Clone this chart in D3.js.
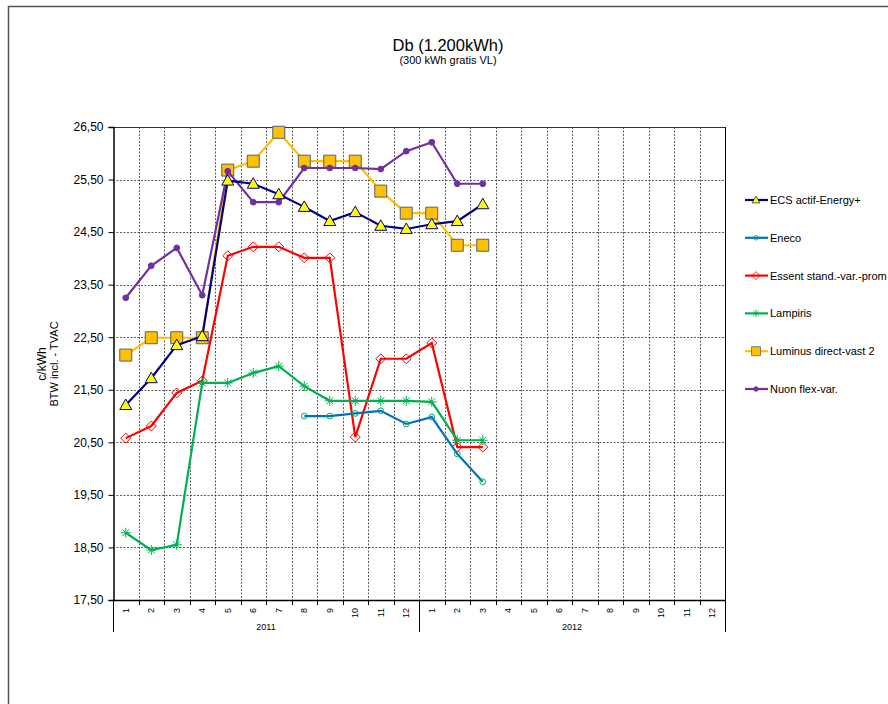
<!DOCTYPE html>
<html>
<head>
<meta charset="utf-8">
<script src="https://cdn.jsdelivr.net/npm/d3@7"></script>
<style>
  body { margin: 0; background: #fff; }
  svg { font-family: "Liberation Sans", Arial, sans-serif; }
</style>
</head>
<body>
<svg width="888" height="704"></svg>
<script>
// months: 2011-01 .. 2012-12
var years = ["2011", "2012"];
var monthLabels = ["1","2","3","4","5","6","7","8","9","10","11","12"];
var yTicks = [17.5, 18.5, 19.5, 20.5, 21.5, 22.5, 23.5, 24.5, 25.5, 26.5];

var seriesNames = ["ECS actif-Energy+", "Eneco", "Essent stand.-var.-prom", "Lampiris", "Luminus direct-vast 2", "Nuon flex-var."];

var ecs      = [21.21, 21.72, 22.35, 22.52, 25.48, 25.42, 25.22, 24.98, 24.71, 24.88, 24.62, 24.56, 24.65, 24.71, 25.03];
var eneco    = [null, null, null, null, null, null, null, 21.00, 21.00, 21.05, 21.10, 20.85, 20.98, 20.28, 19.75];
var essent   = [20.58, 20.81, 21.44, 21.67, 24.05, 24.22, 24.22, 24.01, 24.01, 20.60, 22.09, 22.09, 22.39, 20.41, 20.41];
var lampiris = [18.78, 18.45, 18.55, 21.63, 21.63, 21.82, 21.95, 21.57, 21.29, 21.29, 21.29, 21.29, 21.27, 20.54, 20.54];
var luminus  = [22.16, 22.49, 22.49, 22.49, 25.68, 25.85, 26.40, 25.85, 25.85, 25.85, 25.28, 24.86, 24.86, 24.25, 24.25];
var nuon     = [23.25, 23.86, 24.20, 23.30, 25.66, 25.07, 25.07, 25.72, 25.72, 25.72, 25.70, 26.04, 26.21, 25.42, 25.42];

var svg = d3.select("svg");
var margin = {left: 113, right: 725, top: 127, bottom: 600};

// outer frame
svg.append("path")
   .attr("d", "M8.5,720 V6.5 H900")
   .attr("fill", "none").attr("stroke", "#555").attr("stroke-width", 1.5);

// title
svg.append("text").attr("x", 448).attr("y", 51).attr("text-anchor", "middle")
   .attr("font-size", 16.5).text("Db (1.200kWh)");
svg.append("text").attr("x", 448).attr("y", 64).attr("text-anchor", "middle")
   .attr("font-size", 11).text("(300 kWh gratis VL)");

var allMonths = [];
years.forEach(function(y) { monthLabels.forEach(function(m) { allMonths.push(y + "-" + m); }); });

var x = d3.scaleBand().domain(allMonths).range([margin.left, margin.right]);
var y = d3.scaleLinear().domain([17.5, 26.5]).range([margin.bottom, margin.top]);

// grid
var g = svg.append("g");
g.selectAll(".hg").data(yTicks.slice(1)).enter().append("line")
 .attr("x1", margin.left).attr("x2", margin.right)
 .attr("y1", d => Math.round(y(d)) + 0.5).attr("y2", d => Math.round(y(d)) + 0.5)
 .attr("stroke", "#333").attr("stroke-dasharray", "2,1.5").attr("stroke-width", 0.8);
g.selectAll(".vg").data(allMonths.slice(1)).enter().append("line")
 .attr("x1", d => Math.round(x(d)) + 0.5).attr("x2", d => Math.round(x(d)) + 0.5)
 .attr("y1", margin.top).attr("y2", margin.bottom)
 .attr("stroke", "#333").attr("stroke-dasharray", "2,1.5").attr("stroke-width", 0.8);
g.append("line").attr("x1", margin.right + 0.5).attr("x2", margin.right + 0.5)
 .attr("y1", margin.top).attr("y2", margin.bottom).attr("stroke", "#000").attr("stroke-width", 1);
g.append("line").attr("x1", margin.left).attr("x2", margin.right)
 .attr("y1", margin.top + 0.5).attr("y2", margin.top + 0.5).attr("stroke", "#333").attr("stroke-width", 1);

// y axis
var yAxis = d3.axisLeft(y).tickValues(yTicks).tickSize(5)
  .tickFormat(d => d.toFixed(2).replace(".", ","));
var ya = svg.append("g").attr("transform", "translate(" + (margin.left + 0.5) + ",0)").call(yAxis);
ya.select(".domain").attr("stroke", "#000").attr("stroke-width", 1.5);
ya.selectAll(".tick text").attr("font-size", 12).attr("fill", "#000")
  .attr("font-family", "Liberation Sans, Arial, sans-serif").attr("x", -10);
ya.selectAll(".tick line").attr("stroke", "#000");

svg.append("text")
   .attr("transform", "translate(46,364) rotate(-90)")
   .attr("text-anchor", "middle").attr("font-size", 12).text("c/kWh");
svg.append("text")
   .attr("transform", "translate(58,364) rotate(-90)")
   .attr("text-anchor", "middle").attr("font-size", 11).text("BTW incl. - TVAC");

// x axis
var xa = svg.append("g");
xa.append("line").attr("x1", margin.left).attr("x2", margin.right)
  .attr("y1", margin.bottom + 0.5).attr("y2", margin.bottom + 0.5)
  .attr("stroke", "#000").attr("stroke-width", 1.5);
xa.selectAll(".mt").data(allMonths.concat(["end"])).enter().append("line")
  .attr("x1", d => Math.round(d === "end" ? margin.right : x(d)) + 0.5)
  .attr("x2", d => Math.round(d === "end" ? margin.right : x(d)) + 0.5)
  .attr("y1", margin.bottom).attr("y2", margin.bottom + 5)
  .attr("stroke", "#000");
xa.selectAll(".ml").data(allMonths).enter().append("text")
  .attr("transform", d => "translate(" + (x(d) + x.bandwidth() / 2 + 3) + "," + (margin.bottom + 8) + ") rotate(-90)")
  .attr("text-anchor", "end").attr("font-size", 9)
  .text(d => d.split("-")[1]);
var yearX = d3.scaleBand().domain(years).range([margin.left, margin.right]);
xa.selectAll(".ys").data([margin.left, yearX("2012"), margin.right]).enter().append("line")
  .attr("x1", d => Math.round(d) + 0.5).attr("x2", d => Math.round(d) + 0.5)
  .attr("y1", margin.bottom).attr("y2", margin.bottom + 32)
  .attr("stroke", "#000");
xa.selectAll(".yl").data(years).enter().append("text")
  .attr("x", d => yearX(d) + yearX.bandwidth() / 2).attr("y", margin.bottom + 30)
  .attr("text-anchor", "middle").attr("font-size", 9).text(d => d);

// series
var series = [
  {name: seriesNames[0], values: ecs,      color: "#000080", marker: "triangle", fill: "#FFFF00", mstroke: "#000080"},
  {name: seriesNames[1], values: eneco,    color: "#0070C0", marker: "circle",   fill: "none",    mstroke: "#00B050"},
  {name: seriesNames[2], values: essent,   color: "#FF0000", marker: "diamond",  fill: "none",    mstroke: "#FF0000"},
  {name: seriesNames[3], values: lampiris, color: "#00B050", marker: "star",     fill: "none",    mstroke: "#00B050"},
  {name: seriesNames[4], values: luminus,  color: "#FFC000", marker: "square",   fill: "#FFC000", mstroke: "#4F6278"},
  {name: seriesNames[5], values: nuon,     color: "#7030A0", marker: "dot",      fill: "#7030A0", mstroke: "#7030A0"}
];

function markerPath(type) {
  if (type === "triangle") return "M0,-6L6,4.5L-6,4.5Z";
  if (type === "square") return "M-6,-6H6V6H-6Z";
  if (type === "diamond") return "M0,-5L5,0L0,5L-5,0Z";
  if (type === "circle") return d3.symbol(d3.symbolCircle, 26)();
  if (type === "dot") return d3.symbol(d3.symbolCircle, 26)();
  if (type === "star") return "M-5,0H5M0,-5V5M-3.5,-3.5L3.5,3.5M-3.5,3.5L3.5,-3.5";
}

var line = d3.line()
  .defined(d => d.v != null)
  .x(d => x(allMonths[d.i]) + x.bandwidth() / 2)
  .y(d => y(d.v));

var drawOrder = [4, 5, 0, 2, 1, 3];
drawOrder.forEach(function(k) {
  var s = series[k];
  var pts = s.values.map((v, i) => ({v: v, i: i}));
  svg.append("path").datum(pts).attr("d", line)
     .attr("fill", "none").attr("stroke", s.color).attr("stroke-width", 2.2);
  svg.selectAll(null).data(pts.filter(p => p.v != null)).enter().append("path")
     .attr("transform", p => "translate(" + (x(allMonths[p.i]) + x.bandwidth() / 2) + "," + y(p.v) + ")")
     .attr("d", markerPath(s.marker))
     .attr("fill", s.fill).attr("stroke", s.mstroke).attr("stroke-width", 1);
});

// legend
var legend = svg.append("g");
var ly = d3.scalePoint().domain(seriesNames).range([200, 389]);
series.forEach(function(s) {
  var gy = ly(s.name);
  legend.append("line").attr("x1", 745).attr("x2", 768).attr("y1", gy).attr("y2", gy)
    .attr("stroke", s.color).attr("stroke-width", 2.2);
  legend.append("path").attr("d", markerPath(s.marker))
    .attr("transform", "translate(756," + gy + ") scale(" + (s.marker === "square" ? 0.75 : (s.marker === "triangle" ? 0.65 : 0.8)) + ")")
    .attr("fill", s.fill).attr("stroke", s.mstroke);
  legend.append("text").attr("x", 770).attr("y", gy + 4).attr("font-size", 11).text(s.name);
});
</script>
</body>
</html>
